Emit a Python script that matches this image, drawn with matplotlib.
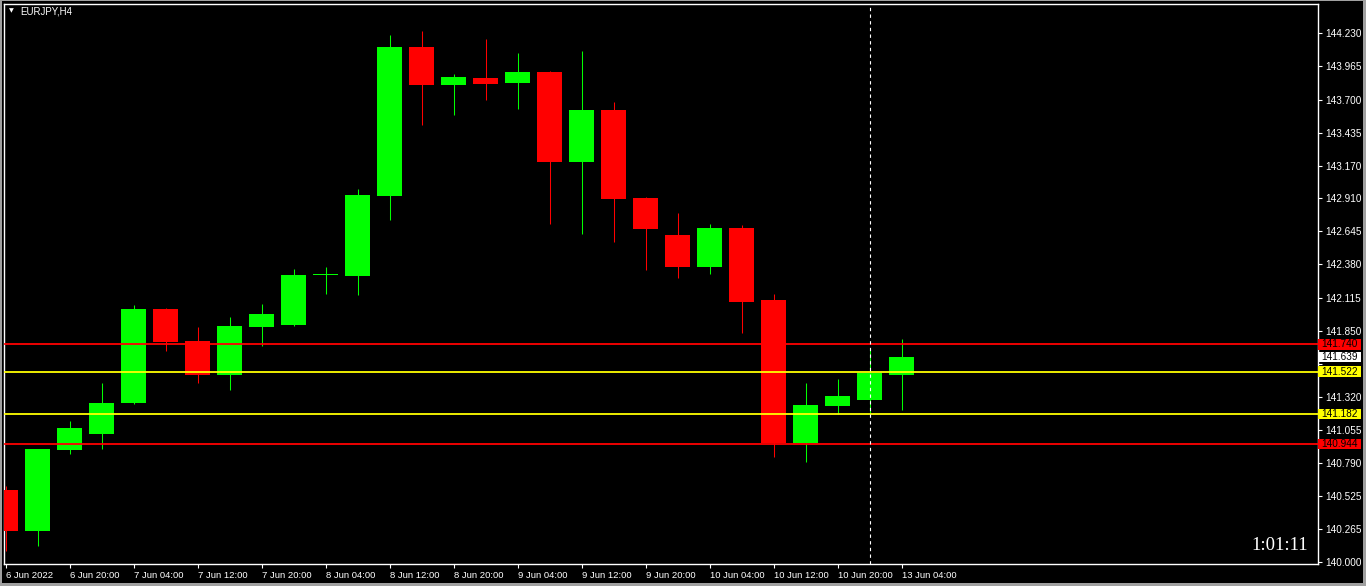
import numpy as np
import matplotlib
matplotlib.use("Agg")
import matplotlib.pyplot as plt
from matplotlib.patches import Rectangle
from matplotlib.transforms import blended_transform_factory

# EURJPY H4 candles, 6 Jun 12:00 .. 13 Jun 04:00
times = ["6 Jun 12:00", "6 Jun 16:00", "6 Jun 20:00", "7 Jun 00:00", "7 Jun 04:00",
         "7 Jun 08:00", "7 Jun 12:00", "7 Jun 16:00", "7 Jun 20:00", "8 Jun 00:00",
         "8 Jun 04:00", "8 Jun 08:00", "8 Jun 12:00", "8 Jun 16:00", "8 Jun 20:00",
         "9 Jun 00:00", "9 Jun 04:00", "9 Jun 08:00", "9 Jun 12:00", "9 Jun 16:00",
         "9 Jun 20:00", "10 Jun 00:00", "10 Jun 04:00", "10 Jun 08:00", "10 Jun 12:00",
         "10 Jun 16:00", "10 Jun 20:00", "13 Jun 00:00", "13 Jun 04:00"]
open_ = [140.574, 140.248, 140.894, 141.022, 141.271, 142.022, 141.767, 141.495, 141.879, 141.895,
         142.293, 142.287, 142.928, 144.121, 143.817, 143.873, 143.833, 143.921, 143.200, 143.617,
         142.912, 142.616, 142.359, 142.672, 142.095, 140.951, 141.247, 141.295, 141.495]
high = [140.606, 140.905, 141.127, 141.431, 142.055, 142.030, 141.879, 141.959, 142.063, 142.343,
        142.359, 142.984, 144.217, 144.249, 143.905, 144.185, 144.073, 143.925, 144.089, 143.681,
        142.920, 142.792, 142.703, 142.695, 142.143, 141.431, 141.463, 141.703, 141.783]
low = [140.088, 140.125, 140.862, 140.902, 141.263, 141.689, 141.431, 141.375, 141.727, 141.887,
       142.142, 142.135, 142.736, 143.497, 143.577, 143.697, 143.625, 142.704, 142.624, 142.560,
       142.335, 142.271, 142.303, 141.831, 140.838, 140.798, 141.183, 141.191, 141.215]
close = [140.248, 140.902, 141.070, 141.271, 142.022, 141.761, 141.495, 141.887, 141.983, 142.295,
         142.295, 142.936, 144.121, 143.817, 143.881, 143.825, 143.921, 143.200, 143.617, 142.904,
         142.664, 142.359, 142.672, 142.079, 140.951, 141.255, 141.327, 141.511, 141.639]

# horizontal levels drawn on the chart
levels = [141.740, 141.522, 141.182, 140.944]
level_colors = ["#ff0000", "#ffff00", "#ffff00", "#ff0000"]
bid_price = 141.639

yticks = [144.230, 143.965, 143.700, 143.435, 143.170, 142.910, 142.645, 142.380, 142.115,
          141.850, 141.585, 141.320, 141.055, 140.790, 140.525, 140.265, 140.000]
hidden_ticks = [141.585]   # label sits under the bid price box
xtick_labels = ["6 Jun 2022", "6 Jun 20:00", "7 Jun 04:00", "7 Jun 12:00", "7 Jun 20:00",
                "8 Jun 04:00", "8 Jun 12:00", "8 Jun 20:00", "9 Jun 04:00", "9 Jun 12:00",
                "9 Jun 20:00", "10 Jun 04:00", "10 Jun 12:00", "10 Jun 20:00", "13 Jun 04:00"]
separator_bar = 27   # dashed line at 13 Jun 00:00
timer = "1:01:11"

W, H = 1366, 586
plt.rcParams['font.family'] = ['Liberation Sans', 'DejaVu Sans']
fig = plt.figure(figsize=(W / 100, H / 100), dpi=100, facecolor="black")

# chart area in pixels: left 4, right 1318, top 4, bottom 564
ax = fig.add_axes([4 / W, (H - 564) / H, (1318 - 4) / W, (564 - 4) / H])
ax.set_facecolor("black")
x0 = (4 - 5.5) / 32
ax.set_xlim(x0, x0 + (1318 - 4) / 32)
ax.set_ylim(139.982, 144.465)

x = np.arange(len(times))
o = np.array(open_); c = np.array(close); hi = np.array(high); lo = np.array(low)
up = c >= o
cols = np.where(up, "#00ff00", "#ff0000")

ax.vlines(x, lo, hi, colors=cols, linewidth=0.75, zorder=2)
body_bot = np.minimum(o, c)
body_h = np.maximum(np.abs(c - o), 0.009)
ax.bar(x, body_h, bottom=body_bot, width=25 / 32, color=cols, linewidth=0, zorder=3)

# support / resistance lines
for lv, col in zip(levels, level_colors):
    ax.axhline(lv, xmin=1.2 / 1314, color=col, linewidth=1.3, zorder=4)

ax.axvline(separator_bar, color="white", linestyle=(0, (3, 3)), linewidth=0.8, zorder=5)

# axes styling
for s in ax.spines.values():
    s.set_color("white")
    s.set_linewidth(1.0)
ax.yaxis.tick_right()
ax.set_yticks(yticks)
ax.set_yticklabels(["" if v in hidden_ticks else "%.3f" % v for v in yticks])
ax.tick_params(axis="y", colors="white", length=3, width=0.8, pad=2, labelsize=7.2)
ax.set_xticks(np.arange(0, 29, 2))
ax.set_xticklabels(xtick_labels, ha="left")
ax.tick_params(axis="x", colors="white", length=3, width=0.8, pad=2, labelsize=6.8)

# price labels on the right scale
tr = blended_transform_factory(ax.transAxes, ax.transData)
box_w = 43 / 1314
box_h = 10.5 / 124.9
for lv, col in list(zip(levels, level_colors)) + [(bid_price, "#ffffff")]:
    ax.add_patch(Rectangle((1.0, lv - box_h / 2), box_w, box_h, transform=tr,
                           facecolor=col, edgecolor="none", clip_on=False, zorder=10))
    ax.text(1.0 + 3.5 / 1314, lv, "%.3f" % lv, transform=tr, ha="left", va="center",
            fontsize=7.2, color="black", clip_on=False, zorder=11)

# title and timer
fig.text(20 / W, 1 - 11.5 / H, "EURJPY,H4", color="white", fontsize=7, va="center", ha="left")
fig.text(11 / W, 1 - 11 / H, "\u25bc", color="white", fontsize=4.5, va="center", ha="center",
         family="DejaVu Sans")
ax.text((1308 - 4) / 1314, (564 - 545) / 560, timer, transform=ax.transAxes, color="white",
        fontsize=13.5, family="Liberation Serif", ha="right", va="center")

# window frame
grey = "#a0a0a0"
for (px, py, pw, ph) in [(0, 0, 2, H), (0, H - 1, W, 1), (W - 3, 0, 3, H), (0, 0, W, 3)]:
    fig.patches.append(Rectangle((px / W, py / H), pw / W, ph / H, transform=fig.transFigure,
                                 facecolor=grey, edgecolor="none"))

fig.savefig("out.png", dpi=100, facecolor="black")
